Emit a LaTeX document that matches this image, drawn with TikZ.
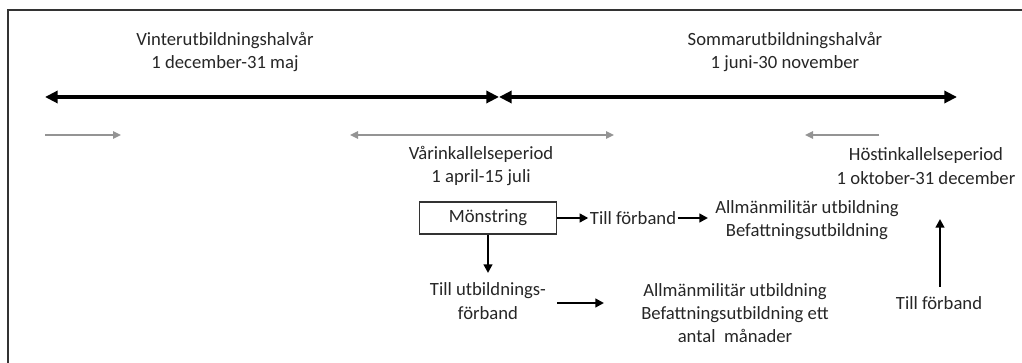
\documentclass[tikz,border=0pt]{standalone}
\usepackage{fontspec}
\setmainfont{Carlito}
\usetikzlibrary{arrows.meta}

\begin{document}
\begin{tikzpicture}[x=0.75pt, y=-0.75pt,
        every node/.style={font=\fontsize{14pt}{17.5pt}\selectfont, text=black!85, align=center, inner sep=1pt},
        halvar/.style={line width=3pt, {Triangle[length=9.5pt,width=9pt]}-{Triangle[length=9.5pt,width=9pt]}},
        inkall/.style={line width=2.1pt, draw=black!42, -{Triangle[length=6pt,width=5.5pt]}},
        flode/.style={line width=2pt, -{Triangle[length=6.5pt,width=6.5pt]}}]
        \useasboundingbox (0,0) rectangle (1022,363);
        \draw[line width=1.2pt, black!80] (8,363) -- (8,10) -- (1022,10);

        % utbildningshalvar
        \node (vinter) at (225,52) {Vinterutbildningshalvår\\1 december-31 maj};
        \node (sommar) at (785,52) {Sommarutbildningshalvår\\1 juni-30 november};
        \coordinate (v1) at (45,97);
        \coordinate (mitt) at (499,97);
        \coordinate (s2) at (957,97);
        \draw[halvar] (v1) -- (mitt);
        \draw[halvar] (mitt) -- (s2);

        % inkallelseperioder
        \coordinate (i1) at (45,135);
        \coordinate (i2) at (121,135);
        \coordinate (i3) at (350,135);
        \coordinate (i4) at (614,135);
        \coordinate (i5) at (879,135);
        \coordinate (i6) at (805,135);
        \draw[inkall] (i1) -- (i2);
        \draw[inkall, {Triangle[length=6pt,width=5.5pt]}-{Triangle[length=6pt,width=5.5pt]}] (i3) -- (i4);
        \draw[inkall] (i5) -- (i6);
        \node (var) at (481,166) {Vårinkallelseperiod\\1 april-15 juli};
        \node (host) at (926,166) {Höstinkallelseperiod\\1 oktober-31 december};

        % flode
        \node[draw=black!80, line width=0.8pt, minimum width=137*0.75pt, minimum height=32*0.75pt] (monst) at (488,218) {Mönstring};
        \node (forb1) at (633,218) {Till förband};
        \node (allm1) at (807,220) {Allmänmilitär utbildning\\Befattningsutbildning};
        \node (utb) at (488,301) {Till utbildnings-\\förband};
        \coordinate (p1) at (557,303);
        \coordinate (p2) at (604,303);
        \node (allm2) at (735,313) {Allmänmilitär utbildning\\Befattningsutbildning ett\\antal\ \ månader};
        \node (forb2) at (939,303) {Till förband};
        \coordinate (u1) at (940,287);
        \coordinate (u2) at (940,219);
        \draw[flode] (monst.east) -- (forb1.west);
        \draw[flode] (forb1.east) -- (708,218);
        \draw[flode] (monst.south) -- (488,273);
        \draw[flode] (p1) -- (p2);
        \draw[flode] (u1) -- (u2);
\end{tikzpicture}
\end{document}
